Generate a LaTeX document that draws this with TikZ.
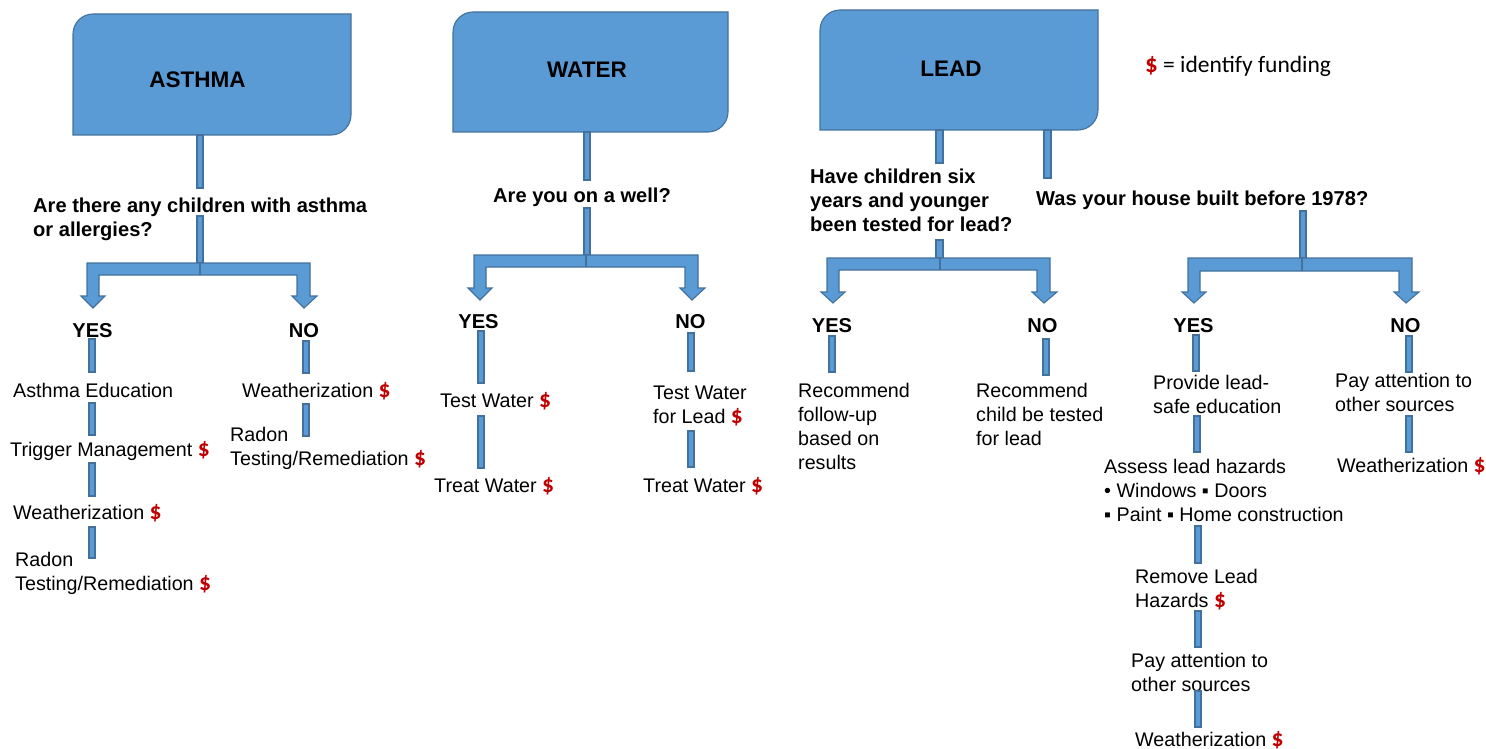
\documentclass[tikz,border=0pt]{standalone}
\usepackage{fontspec}
\setmainfont{Liberation Sans}
\newfontfamily\calfont{Carlito}
\definecolor{boxfill}{HTML}{5B9BD5}
\definecolor{boxline}{HTML}{41719C}
\definecolor{dollarred}{HTML}{C00000}
\newcommand{\dol}{{\calfont\bfseries\fontsize{23.5}{24}\selectfont\color{dollarred}\$}}
% header box: #1 left, #2 top, #3 right, #4 bottom
\newcommand{\hdrbox}[4]{%
  \filldraw[blk] (#1,#4) -- (#1,#2+20) .. controls (#1,#2+9) and (#1+9,#2) .. (#1+20,#2)
    -- (#3,#2) -- (#3,#4-20) .. controls (#3,#4-9) and (#3-9,#4) .. (#3-20,#4) -- cycle;}
% bracket arrow: #1 L, #2 R, #3 top, #4 bar bottom, #5 head start, #6 tip, #7 seam x
\newcommand{\brk}[7]{%
  \filldraw[blk] (#1,#3) -- (#2,#3) -- (#2,#5) -- (#2+7,#5) -- (#2-6,#6) -- (#2-18,#5)
    -- (#2-13,#5) -- (#2-13,#4) -- (#1+12,#4) -- (#1+12,#5) -- (#1+18,#5) -- (#1+6,#6)
    -- (#1-6,#5) -- (#1,#5) -- cycle;
  \draw[boxline, line width=1.1pt] (#7,#3) -- (#7,#4);}
% vertical bar: #1 centre x, #2 top, #3 bottom
\newcommand{\vb}[3]{\filldraw[blk] (#1-3,#2) rectangle (#1+3,#3);}
\begin{document}
\begin{tikzpicture}[x=1pt,y=-1pt,
  blk/.style={fill=boxfill, draw=boxline, line width=1.1pt},
  txt/.style={anchor=base west, inner sep=0pt, font=\fontsize{19.7}{24}\selectfont},
  btxt/.style={anchor=base west, inner sep=0pt, font=\fontsize{20.1}{24}\selectfont\bfseries},
  yn/.style={anchor=base, inner sep=0pt, font=\fontsize{20.1}{24}\selectfont\bfseries},
  hdr/.style={anchor=base, inner sep=0pt, font=\fontsize{22.5}{26}\selectfont\bfseries}]
\useasboundingbox (0,0) rectangle (1486,749);

% ---------- headers ----------
\hdrbox{73}{14}{351}{135}
\hdrbox{453}{12}{728}{132}
\hdrbox{820}{10}{1098}{130}
\node[hdr] (asthma) at (197.5,88) {ASTHMA};
\node[hdr] (water) at (587,78) {WATER};
\node[hdr] (lead) at (951,77) {LEAD};
\node[anchor=base west, inner sep=0pt, font=\calfont\fontsize{23.5}{28}\selectfont] (legend) at (1145,73)
  {{\bfseries\fontsize{25}{28}\selectfont\color{dollarred}\$} = identify funding};

% ---------- stems and brackets ----------
\filldraw[blk] (197,135) rectangle (203,188);
\filldraw[blk] (197,216) rectangle (203,263);
\brk{87}{310}{263}{275}{296}{308}{200}

\filldraw[blk] (584,132) rectangle (590,180);
\filldraw[blk] (584,208) rectangle (590,255);
\brk{474}{698}{255}{267}{288}{300}{586}

\filldraw[blk] (936,130) rectangle (943,163);
\filldraw[blk] (936,240) rectangle (943,258);
\brk{827}{1050}{258}{270}{292}{303}{940}

\filldraw[blk] (1044,130) rectangle (1051,178);
\filldraw[blk] (1300,211) rectangle (1306,258);
\brk{1188}{1412}{258}{271}{292}{303}{1302}

% ---------- asthma ----------
\node[btxt] (aq1) at (33,212) {Are there any children with asthma};
\node[btxt] (aq2) at (33,236) {or allergies?};
\node[yn] (ayes) at (92.5,337) {YES};
\node[yn] (ano) at (304,337) {NO};
\vb{92}{339}{372}
\node[txt] (a1) at (13,397) {Asthma Education};
\vb{92}{403}{435}
\node[txt] (a2) at (10,456) {Trigger Management \dol};
\vb{92}{463}{496}
\node[txt] (a3) at (13,519) {Weatherization \dol};
\vb{92}{527}{558}
\node[txt] (a4a) at (15,566) {Radon};
\node[txt] (a4b) at (15,590) {Testing/Remediation \dol};
\vb{306}{341}{373}
\node[txt] (an1) at (242,397) {Weatherization \dol};
\vb{306}{404}{436}
\node[txt] (an2a) at (230,441) {Radon};
\node[txt] (an2b) at (230,465) {Testing/Remediation \dol};

% ---------- water ----------
\node[btxt] (wq) at (493,202) {Are you on a well?};
\node[yn] (wyes) at (478.5,328) {YES};
\node[yn] (wno) at (690.5,328) {NO};
\vb{481}{331}{383}
\node[txt] (w1) at (440,407) {Test Water \dol};
\vb{481}{416}{468}
\node[txt] (w2) at (434,492) {Treat Water \dol};
\vb{691}{333}{371}
\node[txt] (wn1a) at (653,399) {Test Water};
\node[txt] (wn1b) at (653,423) {for Lead \dol};
\vb{691}{431}{467}
\node[txt] (wn2) at (643,492) {Treat Water \dol};

% ---------- lead ----------
\node[btxt] (lq1) at (810,183) {Have children six};
\node[btxt] (lq2) at (810,207) {years and younger};
\node[btxt] (lq3) at (810,231) {been tested for lead?};
\node[btxt] (hq) at (1036,205) {Was your house built before 1978?};
\node[yn] (lyes) at (832,332) {YES};
\node[yn] (lno) at (1042.5,332) {NO};
\node[yn] (hyes) at (1193.5,332) {YES};
\node[yn] (hno) at (1405.5,332) {NO};

\vb{832}{336}{372}
\node[txt] (l1a) at (798,397) {Recommend};
\node[txt] (l1b) at (798,421) {follow-up};
\node[txt] (l1c) at (798,445) {based on};
\node[txt] (l1d) at (798,469) {results};
\vb{1046}{339}{375}
\node[txt] (ln1a) at (976,397) {Recommend};
\node[txt] (ln1b) at (976,421) {child be tested};
\node[txt] (ln1c) at (976,445) {for lead};

\vb{1196}{335}{371}
\node[txt] (h1a) at (1153,389) {Provide lead-};
\node[txt] (h1b) at (1153,413) {safe education};
\vb{1197}{416}{452}
\node[txt] (h2a) at (1104,473) {Assess lead hazards};
\node[txt] (h2b) at (1104,497) {• Windows ▪ Doors};
\node[txt] (h2c) at (1104,521) {▪ Paint ▪ Home construction};
\vb{1198}{526}{563}
\node[txt] (h3a) at (1135,583) {Remove Lead};
\node[txt] (h3b) at (1135,607) {Hazards \dol};
\vb{1198}{611}{647}
\node[txt] (h4a) at (1131,667) {Pay attention to};
\node[txt] (h4b) at (1131,691) {other sources};
\vb{1198}{691}{727}
\node[txt] (h5) at (1135,746) {Weatherization \dol};

\vb{1409}{336}{372}
\node[txt] (hn1a) at (1335,387) {Pay attention to};
\node[txt] (hn1b) at (1335,411) {other sources};
\vb{1409}{416}{452}
\node[txt] (hn2) at (1337,472) {Weatherization \dol};
\end{tikzpicture}
\end{document}
